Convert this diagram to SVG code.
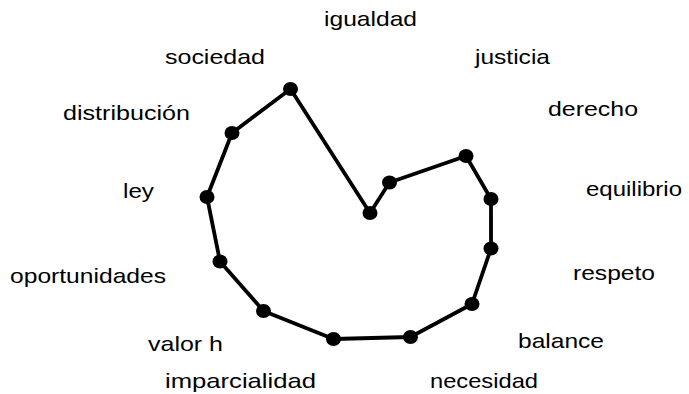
<svg xmlns="http://www.w3.org/2000/svg" width="689" height="394" viewBox="0 0 689 394">
<style>
.lbl{font-family:"Liberation Sans",Arial,sans-serif;font-size:21px;fill:#000;}
.dot{fill:#000;}
.ln{fill:none;stroke:#000;stroke-width:3.8;stroke-linejoin:round;}
</style>
<defs>
<ellipse id="d" class="dot" cx="0" cy="0" rx="7.5" ry="7"/>
</defs>
<rect width="689" height="394" fill="#fff"/>
<g id="connectors">
<polygon class="ln" points="370,213 389.5,182.5 466,156 491,199 491,248.5 472,304 410.5,337 333.5,339 263.5,311 220,261.5 207,197 232,133 290.5,89"/>
</g>
<g id="igualdad"><text class="lbl" x="324" y="26" textLength="93" lengthAdjust="spacingAndGlyphs">igualdad</text><use href="#d" x="370" y="213"/></g>
<g id="justicia"><text class="lbl" x="475" y="64" textLength="75" lengthAdjust="spacingAndGlyphs">justicia</text><use href="#d" x="389.5" y="182.5"/></g>
<g id="derecho"><text class="lbl" x="548" y="116" textLength="90" lengthAdjust="spacingAndGlyphs">derecho</text><use href="#d" x="466" y="156"/></g>
<g id="equilibrio"><text class="lbl" x="586" y="196" textLength="96" lengthAdjust="spacingAndGlyphs">equilibrio</text><use href="#d" x="491" y="199"/></g>
<g id="respeto"><text class="lbl" x="573" y="280" textLength="82" lengthAdjust="spacingAndGlyphs">respeto</text><use href="#d" x="491" y="248.5"/></g>
<g id="balance"><text class="lbl" x="518" y="348" textLength="86" lengthAdjust="spacingAndGlyphs">balance</text><use href="#d" x="472" y="304"/></g>
<g id="necesidad"><text class="lbl" x="430" y="388" textLength="108" lengthAdjust="spacingAndGlyphs">necesidad</text><use href="#d" x="410.5" y="337"/></g>
<g id="imparcialidad"><text class="lbl" x="165" y="388" textLength="151" lengthAdjust="spacingAndGlyphs">imparcialidad</text><use href="#d" x="333.5" y="339"/></g>
<g id="valor_h"><text class="lbl" x="148" y="351" textLength="75" lengthAdjust="spacingAndGlyphs">valor h</text><use href="#d" x="263.5" y="311"/></g>
<g id="oportunidades"><text class="lbl" x="10" y="283" textLength="156" lengthAdjust="spacingAndGlyphs">oportunidades</text><use href="#d" x="220" y="261.5"/></g>
<g id="ley"><text class="lbl" x="123" y="198" textLength="31" lengthAdjust="spacingAndGlyphs">ley</text><use href="#d" x="207" y="197"/></g>
<g id="distribucion"><text class="lbl" x="63" y="120" textLength="127" lengthAdjust="spacingAndGlyphs">distribución</text><use href="#d" x="232" y="133"/></g>
<g id="sociedad"><text class="lbl" x="165" y="64" textLength="100" lengthAdjust="spacingAndGlyphs">sociedad</text><use href="#d" x="290.5" y="89"/></g>
</svg>
